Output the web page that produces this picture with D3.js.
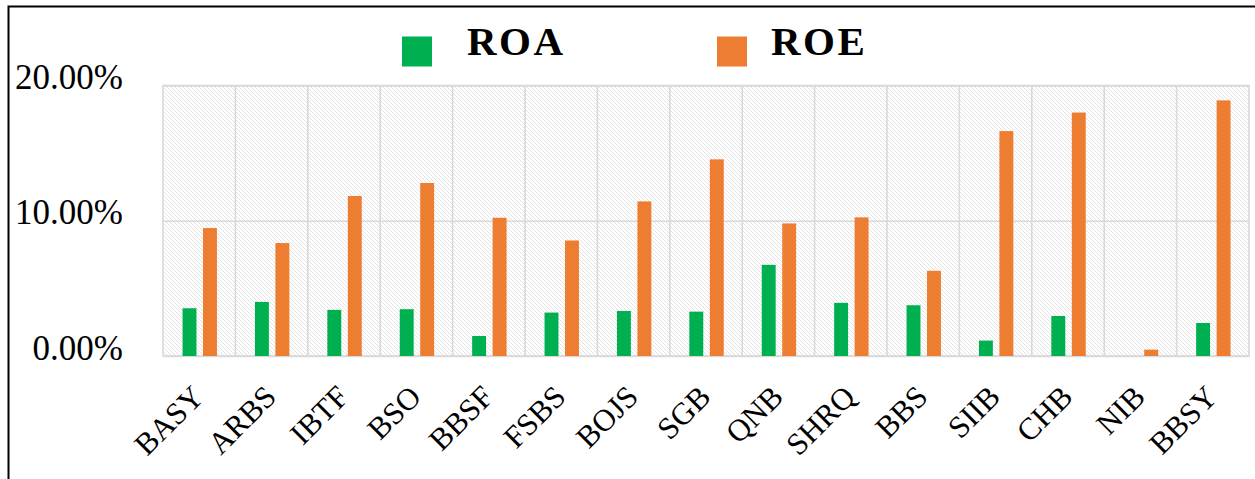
<!DOCTYPE html>
<html>
<head>
<meta charset="utf-8">
<script src="https://cdn.jsdelivr.net/npm/d3@7"></script>
<style>
  html, body { margin: 0; padding: 0; background: #fff; }
  svg { display: block; font-family: "Liberation Serif", "Times New Roman", serif; }
</style>
</head>
<body>
<svg id="chart" width="1255" height="479"></svg>
<script>
// banks, in chart order
const banks = ["BASY", "ARBS", "IBTF", "BSO", "BBSF", "FSBS", "BOJS", "SGB",
  "QNB", "SHRQ", "BBS", "SIIB", "CHB", "NIB", "BBSY"];

// values (fractions)
const roa = [0.0353, 0.0400, 0.0341, 0.0346, 0.0148, 0.0321, 0.0333, 0.0328,
  0.0674, 0.0393, 0.0375, 0.0114, 0.0296, 0.0000, 0.0244];
const roe = [0.0946, 0.0835, 0.1183, 0.1279, 0.1022, 0.0854, 0.1143, 0.1454,
  0.0980, 0.1025, 0.0630, 0.1663, 0.1800, 0.0047, 0.1890];

const seriesNames = ["ROA", "ROE"];
const seriesColors = ["#00b050", "#ed7d31"];
const yTicks = [0, 0.1, 0.2];

const W = 1255, H = 479;
const plot = { left: 163, right: 1249, top: 85.5, bottom: 356 };
const gridColor = "#d9d9d9";

const svg = d3.select("#chart");

// hatch fill for the plot area
const defs = svg.append("defs");
const pat = defs.append("pattern")
  .attr("id", "hatch")
  .attr("patternUnits", "userSpaceOnUse")
  .attr("width", 4).attr("height", 4);
pat.append("path")
  .attr("d", "M-1,-1 L5,5 M-1,3 L1,5 M3,-1 L5,1")
  .attr("stroke", "#e3e3e3")
  .attr("stroke-width", 1);

const x0 = d3.scaleBand().domain(banks).range([plot.left, plot.right]);
const x1 = d3.scaleBand().domain(seriesNames)
  .range([x0.bandwidth() * 0.27, x0.bandwidth() * 0.745])
  .paddingInner(0.32);
const y = d3.scaleLinear().domain([0, 0.2]).range([plot.bottom, plot.top]);

// plot background
svg.append("rect")
  .attr("x", plot.left).attr("y", plot.top)
  .attr("width", plot.right - plot.left)
  .attr("height", plot.bottom - plot.top)
  .attr("fill", "url(#hatch)");

// horizontal grid
svg.append("g")
  .attr("transform", `translate(${plot.left},0)`)
  .call(d3.axisLeft(y).tickValues(yTicks).tickSize(-(plot.right - plot.left)).tickFormat(""))
  .call((g) => g.select(".domain").remove())
  .call((g) => g.selectAll("line").attr("stroke", gridColor).attr("stroke-width", 1.6));

// vertical grid at category boundaries
svg.append("g")
  .selectAll("line")
  .data(banks.slice(1))
  .join("line")
  .attr("x1", (d) => x0(d)).attr("x2", (d) => x0(d))
  .attr("y1", plot.top).attr("y2", plot.bottom)
  .attr("stroke", gridColor).attr("stroke-width", 1.6);

svg.append("rect")
  .attr("x", plot.left).attr("y", plot.top)
  .attr("width", plot.right - plot.left)
  .attr("height", plot.bottom - plot.top)
  .attr("fill", "none")
  .attr("stroke", gridColor).attr("stroke-width", 1.6);

// bars
const rows = banks.map((b, i) => ({ bank: b, vals: [roa[i], roe[i]] }));
svg.append("g")
  .selectAll("g")
  .data(rows)
  .join("g")
  .attr("transform", (d) => `translate(${x0(d.bank)},0)`)
  .selectAll("rect")
  .data((d) => d.vals.map((v, k) => ({ key: seriesNames[k], v, k })))
  .join("rect")
  .attr("x", (d) => x1(d.key))
  .attr("width", x1.bandwidth())
  .attr("y", (d) => y(d.v))
  .attr("height", (d) => y(0) - y(d.v))
  .attr("fill", (d) => seriesColors[d.k]);

// y axis labels
svg.append("g")
  .attr("transform", "translate(123,0)")
  .call(d3.axisLeft(y).tickValues(yTicks).tickSize(0).tickPadding(0).tickFormat(d3.format(".2%")))
  .call((g) => g.select(".domain").remove())
  .call((g) => g.selectAll("text")
    .attr("dy", 3)
    .attr("fill", "#000")
    .style("font-family", "'Liberation Serif', serif")
    .style("font-size", "35px"));

// x axis labels, rotated
svg.append("g")
  .attr("transform", "translate(0,405)")
  .call(d3.axisBottom(x0).tickSize(0))
  .call((g) => g.select(".domain").remove())
  .call((g) => g.selectAll("text")
    .attr("x", 9).attr("y", 0).attr("dy", 0)
    .attr("text-anchor", "end")
    .attr("transform", "rotate(-45)")
    .attr("fill", "#000")
    .style("font-family", "'Liberation Serif', serif")
    .style("font-size", "31px"));

// legend
const legendX = [402, 717];
const legend = svg.append("g")
  .selectAll("g")
  .data(seriesNames)
  .join("g")
  .attr("transform", (d, i) => `translate(${legendX[i]},36.5)`);
legend.append("rect")
  .attr("width", 30).attr("height", 30)
  .attr("fill", (d, i) => seriesColors[i]);
legend.append("text")
  .attr("x", (d, i) => (i === 0 ? 65 : 54))
  .attr("y", 18)
  .attr("fill", "#000")
  .style("font-size", "41px")
  .style("font-weight", "bold")
  .style("letter-spacing", "2.5px")
  .text((d) => d);

// outer frame (left and top edges visible)
svg.append("path")
  .attr("d", `M8.5,${H} L8.5,6.5 L${W},6.5`)
  .attr("fill", "none")
  .attr("stroke", "#000")
  .attr("stroke-width", 2);
</script>
</body>
</html>
